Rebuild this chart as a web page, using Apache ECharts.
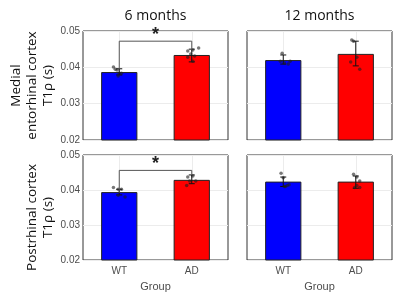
<!DOCTYPE html>
<html>
<head>
<meta charset="utf-8">
<script src="https://cdn.jsdelivr.net/npm/echarts@6/dist/echarts.min.js"></script>
<style>
  html, body { margin: 0; padding: 0; background: #fff; }
  #chart { width: 400px; height: 293px; }
</style>
</head>
<body>
<div id="chart"></div>
<script>
const groups = ['WT', 'AD'];
const barColors = ['#0000ff', '#ff0000'];
const yTicks = [0.02, 0.03, 0.04, 0.05];
const panelTitles = ['6 months', '12 months'];
const rowTitles = ['Medial\nentorhinal cortex\nT1\u03c1 (s)', 'Postrhinal cortex\nT1\u03c1 (s)'];

// means per panel (WT, AD)
const mec6Mean = [0.0387, 0.0434];
const mec12Mean = [0.0420, 0.0437];
const por6Mean = [0.0394, 0.0429];
const por12Mean = [0.0424, 0.0424];

// error bars [x, low, high]
const mec6Err = [[0, 0.0379, 0.0396], [1, 0.0415, 0.0450]];
const mec12Err = [[0, 0.0409, 0.0434], [1, 0.0404, 0.0472]];
const por6Err = [[0, 0.0386, 0.0402], [1, 0.0418, 0.0443]];
const por12Err = [[0, 0.0410, 0.0437], [1, 0.0405, 0.0440]];

// individual animals [jittered x, value]
const mec6Pts = [
  [-0.08, 0.0401], [-0.055, 0.0395], [-0.03, 0.0393], [0, 0.0384], [-0.015, 0.0376], [0.03, 0.0384],
  [0.945, 0.0445], [1.015, 0.0448], [1.095, 0.0453], [0.945, 0.0428], [1.015, 0.0417], [1.04, 0.0431], [0.985, 0.0437]
];
const mec12Pts = [
  [-0.015, 0.0439], [-0.04, 0.0417], [0.015, 0.0412], [0.07, 0.0409], [0.095, 0.0417],
  [0.945, 0.0475], [0.97, 0.0472], [1.015, 0.0428], [0.93, 0.0415], [1.055, 0.0395]
];
const por6Pts = [
  [-0.08, 0.0407], [-0.015, 0.0402], [0.03, 0.0402], [-0.015, 0.0385], [0.08, 0.0380],
  [0.945, 0.0437], [1.015, 0.0440], [1.055, 0.0426], [0.93, 0.0413], [0.97, 0.0426]
];
const por12Pts = [
  [-0.03, 0.0448], [0, 0.0435], [0.015, 0.0410], [0.055, 0.0413], [0.08, 0.0415], [0.03, 0.0410],
  [0.97, 0.0445], [1.015, 0.0437], [1.055, 0.0426], [0.985, 0.0407], [1.055, 0.0407], [1.015, 0.0413]
];

// significance brackets [x0, x1, top, leftEnd, rightEnd]
const mec6Sig = [[0, 1, 0.0472, 0.0396, 0.0447]];
const por6Sig = [[0, 1, 0.0456, 0.0392, 0.0443]];

const means = [mec6Mean, mec12Mean, por6Mean, por12Mean];
const errs = [mec6Err, mec12Err, por6Err, por12Err];
const pts = [mec6Pts, mec12Pts, por6Pts, por12Pts];
const sigs = [mec6Sig, null, por6Sig, null];

const font = '"Open Sans", "Liberation Sans", sans-serif';
const tickFont = '"Liberation Sans", Arial, sans-serif';

const grids = [
  { left: 83, top: 31, width: 145, height: 109 },
  { left: 247, top: 31, width: 145, height: 109 },
  { left: 83, top: 155, width: 145, height: 110 },
  { left: 247, top: 155, width: 145, height: 110 }
].map(g => Object.assign(g, { show: true, borderColor: '#333', borderWidth: 1, backgroundColor: '#fff' }));

const xAxes = [];
const yAxes = [];
grids.forEach((g, i) => {
  const bottomRow = i >= 2;
  xAxes.push({
    type: 'category', gridIndex: i, data: groups,
    axisLine: { show: false }, axisTick: { show: false },
    axisLabel: { show: bottomRow, color: '#4d4d4d', fontSize: 10, fontFamily: tickFont, margin: 6 },
    splitLine: { show: true, alignWithLabel: true, lineStyle: { color: '#ececec', width: 1 } },
    name: bottomRow ? 'Group' : '', nameLocation: 'middle', nameGap: 21,
    nameTextStyle: { color: '#4d4d4d', fontSize: 11, fontFamily: tickFont }
  });
  yAxes.push({
    type: 'value', gridIndex: i, min: yTicks[0], max: yTicks[yTicks.length - 1], interval: 0.01,
    axisLine: { show: false }, axisTick: { show: false },
    axisLabel: { show: i % 2 === 0, color: '#4d4d4d', fontSize: 10, fontFamily: tickFont, margin: 3,
      formatter: v => v.toFixed(2) },
    splitLine: { show: true, lineStyle: { color: '#ececec', width: 1 } },
    name: i % 2 === 0 ? rowTitles[i / 2] : '', nameLocation: 'middle', nameGap: 26,
    nameTextStyle: { color: '#111', fontSize: 13.5, lineHeight: 16, fontFamily: font,
      padding: bottomRow ? [0, 20, 0, 0] : 0 }
  });
});
// hidden value axes for jittered points and error bars
grids.forEach((g, i) => {
  xAxes.push({ type: 'value', gridIndex: i, min: -0.5, max: 1.5, show: false, splitLine: { show: false } });
});

const series = [];
grids.forEach((g, i) => {
  series.push({
    type: 'bar', xAxisIndex: i, yAxisIndex: i, barWidth: '50%', z: 2,
    data: means[i].map((v, k) => ({ value: v, itemStyle: { color: barColors[k] } })),
    itemStyle: { borderColor: '#222', borderWidth: 1 },
    silent: true
  });
  series.push({
    type: 'custom', xAxisIndex: 4 + i, yAxisIndex: i, z: 4, data: errs[i],
    renderItem: (params, api) => {
      const x = api.value(0);
      const lo = api.coord([x, api.value(1)]);
      const hi = api.coord([x, api.value(2)]);
      const cap = 3;
      const st = { stroke: '#111', lineWidth: 1 };
      return {
        type: 'group', children: [
          { type: 'line', shape: { x1: lo[0], y1: lo[1], x2: hi[0], y2: hi[1] }, style: st },
          { type: 'line', shape: { x1: lo[0] - cap, y1: lo[1], x2: lo[0] + cap, y2: lo[1] }, style: st },
          { type: 'line', shape: { x1: hi[0] - cap, y1: hi[1], x2: hi[0] + cap, y2: hi[1] }, style: st }
        ]
      };
    }
  });
  series.push({
    type: 'scatter', xAxisIndex: 4 + i, yAxisIndex: i, z: 5, data: pts[i],
    symbolSize: 3.5, itemStyle: { color: 'rgba(30,30,30,0.75)' }, silent: true
  });
  if (sigs[i]) {
    series.push({
      type: 'custom', xAxisIndex: 4 + i, yAxisIndex: i, z: 6, data: sigs[i],
      renderItem: (params, api) => {
        const top = api.value(2);
        const a = api.coord([api.value(0), api.value(3)]);
        const b = api.coord([api.value(0), top]);
        const c = api.coord([api.value(1), top]);
        const d = api.coord([api.value(1), api.value(4)]);
        return {
          type: 'group', children: [
            { type: 'polyline', shape: { points: [a, b, c, d] }, style: { stroke: '#555', lineWidth: 1, fill: null } },
            { type: 'text', x: (b[0] + c[0]) / 2, y: b[1] + 3,
              style: { text: '*', fontSize: 18, fontWeight: 'bold', fontFamily: tickFont, fill: '#222', align: 'center', verticalAlign: 'bottom' } }
          ]
        };
      }
    });
  }
});

const chart = echarts.init(document.getElementById('chart'));
chart.setOption({
  animation: false,
  backgroundColor: '#fff',
  grid: grids,
  xAxis: xAxes,
  yAxis: yAxes,
  series: series,
  graphic: panelTitles.map((t, k) => ({
    type: 'text', x: grids[k].left + grids[k].width / 2, y: 16,
    style: { text: t, fontSize: 14, fontFamily: font, fill: '#111', align: 'center', verticalAlign: 'middle' }
  }))
});
</script>
</body>
</html>
